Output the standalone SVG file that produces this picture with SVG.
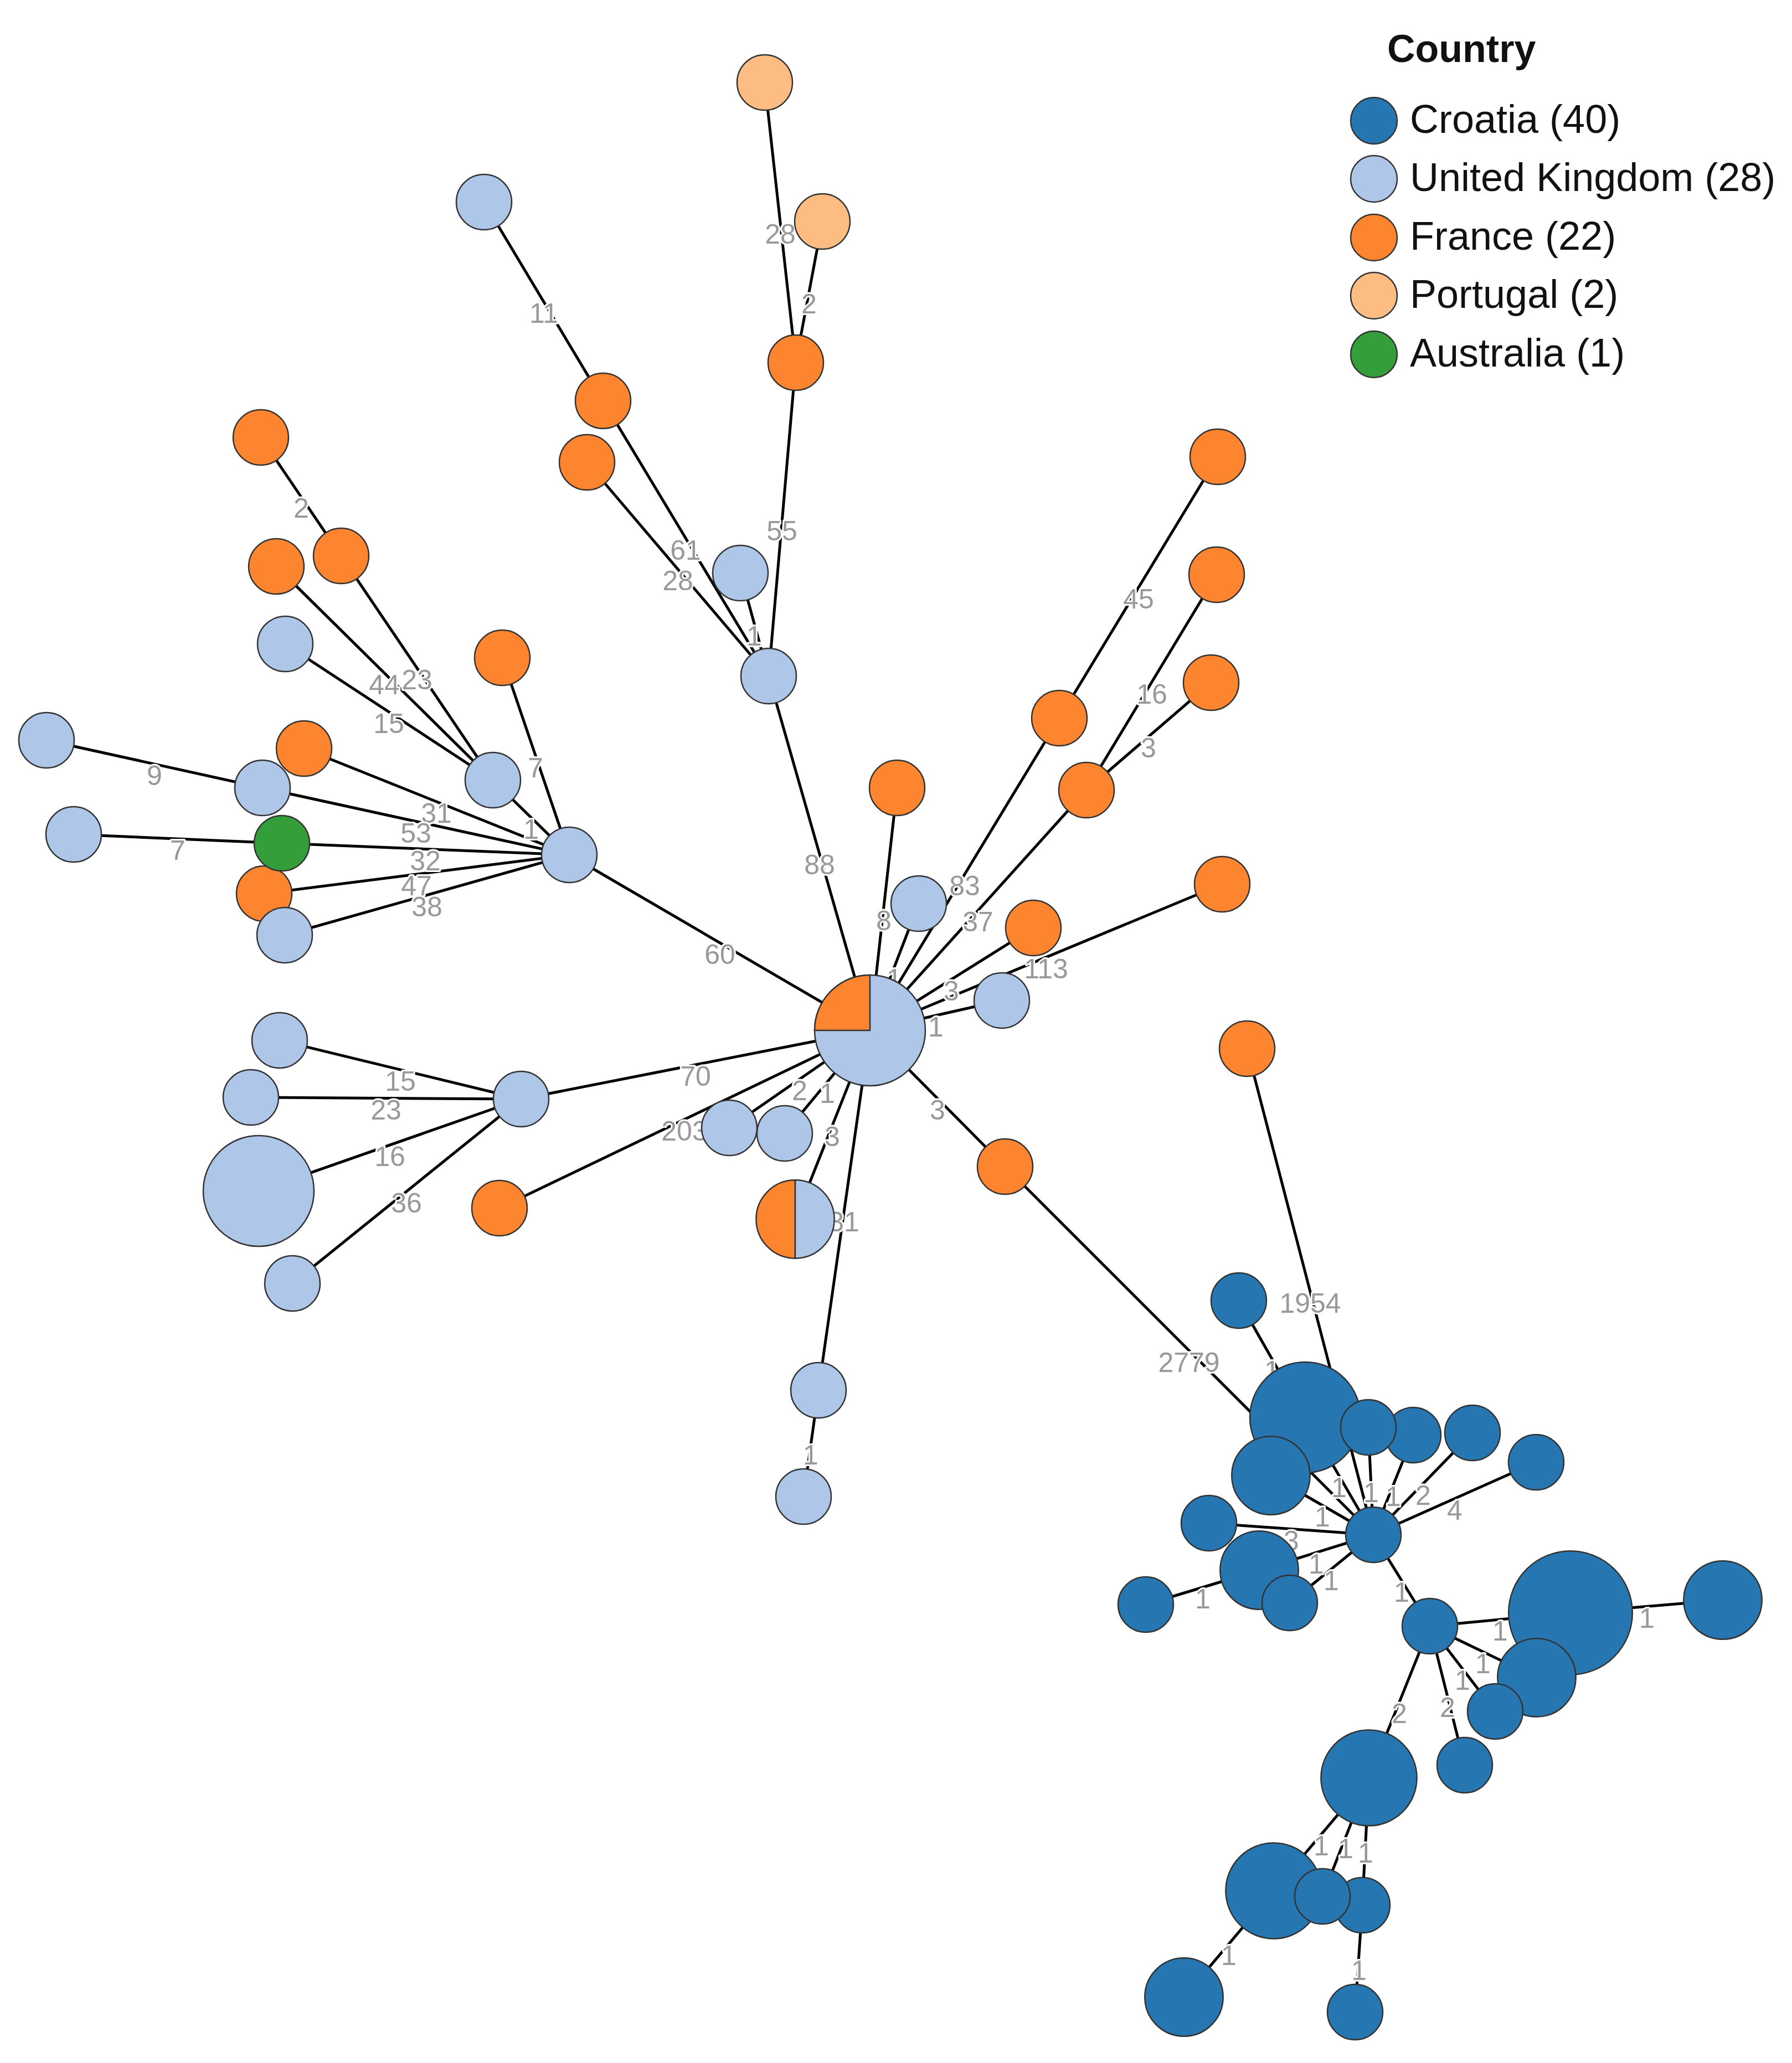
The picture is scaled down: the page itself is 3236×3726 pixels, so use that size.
<svg xmlns="http://www.w3.org/2000/svg" width="3236" height="3726" viewBox="0 0 3236 3726">
<style>
.e{stroke:#000;stroke-width:5;fill:none}
.l{font-family:"Liberation Sans",Arial,sans-serif;font-size:50px;fill:#999;text-anchor:middle;stroke:#fff;stroke-width:6;paint-order:stroke;stroke-linejoin:round}
.n{stroke:#333;stroke-width:2.5}
.hr{fill:#2677b1}.uk{fill:#aec7e8}.fr{fill:#fd852f}.pt{fill:#fdbd82}.au{fill:#349e3a}
.lt{font-family:"Liberation Sans",Arial,sans-serif;font-size:72px;fill:#111}
</style>
<rect width="3236" height="3726" fill="#fff"/>
<g id="edges">
<line class="e" x1="1381" y1="149" x2="1437" y2="655"/>
<line class="e" x1="1485" y1="400" x2="1437" y2="655"/>
<line class="e" x1="1437" y1="655" x2="1388" y2="1221"/>
<line class="e" x1="874" y1="365" x2="1089" y2="724"/>
<line class="e" x1="1089" y1="724" x2="1388" y2="1221"/>
<line class="e" x1="1060" y1="835" x2="1388" y2="1221"/>
<line class="e" x1="1337" y1="1035" x2="1388" y2="1221"/>
<line class="e" x1="1388" y1="1221" x2="1571" y2="1861"/>
<line class="e" x1="471" y1="790" x2="616" y2="1004"/>
<line class="e" x1="616" y1="1004" x2="890" y2="1409"/>
<line class="e" x1="499" y1="1023" x2="890" y2="1409"/>
<line class="e" x1="515" y1="1163" x2="890" y2="1409"/>
<line class="e" x1="890" y1="1409" x2="1028" y2="1544"/>
<line class="e" x1="907" y1="1188" x2="1028" y2="1544"/>
<line class="e" x1="84" y1="1337" x2="474" y2="1423"/>
<line class="e" x1="549" y1="1352" x2="1028" y2="1544"/>
<line class="e" x1="474" y1="1423" x2="1028" y2="1544"/>
<line class="e" x1="133" y1="1507" x2="509" y2="1523"/>
<line class="e" x1="509" y1="1523" x2="1028" y2="1544"/>
<line class="e" x1="477" y1="1614" x2="1028" y2="1544"/>
<line class="e" x1="514" y1="1689" x2="1028" y2="1544"/>
<line class="e" x1="1028" y1="1544" x2="1571" y2="1861"/>
<line class="e" x1="1620" y1="1423" x2="1571" y2="1861"/>
<line class="e" x1="1659" y1="1632" x2="1571" y2="1861"/>
<line class="e" x1="2199" y1="825" x2="1913" y2="1297"/>
<line class="e" x1="1913" y1="1297" x2="1571" y2="1861"/>
<line class="e" x1="2197" y1="1038" x2="1962" y2="1427"/>
<line class="e" x1="2187" y1="1233" x2="1962" y2="1427"/>
<line class="e" x1="1962" y1="1427" x2="1571" y2="1861"/>
<line class="e" x1="1866" y1="1676" x2="1571" y2="1861"/>
<line class="e" x1="2207" y1="1597" x2="1571" y2="1861"/>
<line class="e" x1="1809" y1="1807" x2="1571" y2="1861"/>
<line class="e" x1="1815" y1="2107" x2="1571" y2="1861"/>
<line class="e" x1="505" y1="1879" x2="941" y2="1985"/>
<line class="e" x1="453" y1="1982" x2="941" y2="1985"/>
<line class="e" x1="467" y1="2151" x2="941" y2="1985"/>
<line class="e" x1="528" y1="2318" x2="941" y2="1985"/>
<line class="e" x1="941" y1="1985" x2="1571" y2="1861"/>
<line class="e" x1="902" y1="2182" x2="1571" y2="1861"/>
<line class="e" x1="1317" y1="2037" x2="1571" y2="1861"/>
<line class="e" x1="1417" y1="2047" x2="1571" y2="1861"/>
<line class="e" x1="1436" y1="2202" x2="1571" y2="1861"/>
<line class="e" x1="1478" y1="2511" x2="1571" y2="1861"/>
<line class="e" x1="1478" y1="2511" x2="1451" y2="2703"/>
<line class="e" x1="1815" y1="2107" x2="2480" y2="2772"/>
<line class="e" x1="2252" y1="1894" x2="2480" y2="2772"/>
<line class="e" x1="2237" y1="2349" x2="2357" y2="2560"/>
<line class="e" x1="2480" y1="2772" x2="2357" y2="2560"/>
<line class="e" x1="2480" y1="2772" x2="2471" y2="2578"/>
<line class="e" x1="2480" y1="2772" x2="2552" y2="2592"/>
<line class="e" x1="2480" y1="2772" x2="2659" y2="2588"/>
<line class="e" x1="2480" y1="2772" x2="2774" y2="2641"/>
<line class="e" x1="2480" y1="2772" x2="2295" y2="2665"/>
<line class="e" x1="2480" y1="2772" x2="2183" y2="2751"/>
<line class="e" x1="2480" y1="2772" x2="2274" y2="2836"/>
<line class="e" x1="2480" y1="2772" x2="2329" y2="2895"/>
<line class="e" x1="2480" y1="2772" x2="2582" y2="2937"/>
<line class="e" x1="2069" y1="2898" x2="2274" y2="2836"/>
<line class="e" x1="2582" y1="2937" x2="2836" y2="2913"/>
<line class="e" x1="2836" y1="2913" x2="3111" y2="2890"/>
<line class="e" x1="2582" y1="2937" x2="2775" y2="3030"/>
<line class="e" x1="2582" y1="2937" x2="2700" y2="3091"/>
<line class="e" x1="2582" y1="2937" x2="2645" y2="3188"/>
<line class="e" x1="2582" y1="2937" x2="2472" y2="3211"/>
<line class="e" x1="2472" y1="3211" x2="2300" y2="3415"/>
<line class="e" x1="2472" y1="3211" x2="2388" y2="3425"/>
<line class="e" x1="2472" y1="3211" x2="2460" y2="3441"/>
<line class="e" x1="2300" y1="3415" x2="2138" y2="3607"/>
<line class="e" x1="2460" y1="3441" x2="2447" y2="3634"/>
</g>
<g id="edge-labels">
<text class="l" x="1409" y="440">28</text>
<text class="l" x="1461" y="566">2</text>
<text class="l" x="1412" y="976">55</text>
<text class="l" x="982" y="583">11</text>
<text class="l" x="1238" y="1011">61</text>
<text class="l" x="1224" y="1066">28</text>
<text class="l" x="1362" y="1166">1</text>
<text class="l" x="1480" y="1579">88</text>
<text class="l" x="544" y="935">2</text>
<text class="l" x="753" y="1245">23</text>
<text class="l" x="694" y="1254">44</text>
<text class="l" x="702" y="1324">15</text>
<text class="l" x="959" y="1515">1</text>
<text class="l" x="967" y="1404">7</text>
<text class="l" x="279" y="1418">9</text>
<text class="l" x="788" y="1486">31</text>
<text class="l" x="751" y="1522">53</text>
<text class="l" x="321" y="1553">7</text>
<text class="l" x="768" y="1572">32</text>
<text class="l" x="752" y="1617">47</text>
<text class="l" x="771" y="1655">38</text>
<text class="l" x="1300" y="1741">60</text>
<text class="l" x="1596" y="1680">8</text>
<text class="l" x="1615" y="1785">1</text>
<text class="l" x="2056" y="1099">45</text>
<text class="l" x="1742" y="1617">83</text>
<text class="l" x="2080" y="1271">16</text>
<text class="l" x="2074" y="1368">3</text>
<text class="l" x="1766" y="1682">37</text>
<text class="l" x="1718" y="1807">3</text>
<text class="l" x="1889" y="1767">113</text>
<text class="l" x="1690" y="1872">1</text>
<text class="l" x="1693" y="2022">3</text>
<text class="l" x="723" y="1970">15</text>
<text class="l" x="697" y="2022">23</text>
<text class="l" x="704" y="2106">16</text>
<text class="l" x="734" y="2190">36</text>
<text class="l" x="1256" y="1961">70</text>
<text class="l" x="1236" y="2060">203</text>
<text class="l" x="1444" y="1987">2</text>
<text class="l" x="1494" y="1992">1</text>
<text class="l" x="1503" y="2070">3</text>
<text class="l" x="1524" y="2224">31</text>
<text class="l" x="1464" y="2645">1</text>
<text class="l" x="2147" y="2478">2779</text>
<text class="l" x="2366" y="2371">1954</text>
<text class="l" x="2297" y="2493">1</text>
<text class="l" x="2418" y="2704">1</text>
<text class="l" x="2476" y="2713">1</text>
<text class="l" x="2516" y="2720">1</text>
<text class="l" x="2570" y="2718">2</text>
<text class="l" x="2627" y="2745">4</text>
<text class="l" x="2388" y="2757">1</text>
<text class="l" x="2332" y="2800">3</text>
<text class="l" x="2377" y="2842">1</text>
<text class="l" x="2404" y="2872">1</text>
<text class="l" x="2531" y="2893">1</text>
<text class="l" x="2172" y="2905">1</text>
<text class="l" x="2709" y="2963">1</text>
<text class="l" x="2974" y="2940">1</text>
<text class="l" x="2678" y="3022">1</text>
<text class="l" x="2641" y="3052">1</text>
<text class="l" x="2614" y="3101">2</text>
<text class="l" x="2527" y="3112">2</text>
<text class="l" x="2386" y="3351">1</text>
<text class="l" x="2430" y="3356">1</text>
<text class="l" x="2466" y="3364">1</text>
<text class="l" x="2219" y="3549">1</text>
<text class="l" x="2454" y="3576">1</text>
</g>
<g id="nodes">
<g id="node-P1"><circle class="n pt" cx="1381" cy="149" r="50"/></g>
<g id="node-P2"><circle class="n pt" cx="1485" cy="400" r="50"/></g>
<g id="node-F1"><circle class="n fr" cx="1437" cy="655" r="50"/></g>
<g id="node-F2"><circle class="n fr" cx="1089" cy="724" r="50"/></g>
<g id="node-F3"><circle class="n fr" cx="1060" cy="835" r="50"/></g>
<g id="node-U1"><circle class="n uk" cx="874" cy="365" r="50"/></g>
<g id="node-U2"><circle class="n uk" cx="1337" cy="1035" r="50"/></g>
<g id="node-U3"><circle class="n uk" cx="1388" cy="1221" r="50"/></g>
<g id="node-A1"><circle class="n fr" cx="471" cy="790" r="50"/></g>
<g id="node-A2"><circle class="n fr" cx="616" cy="1004" r="50"/></g>
<g id="node-A3"><circle class="n fr" cx="499" cy="1023" r="50"/></g>
<g id="node-B1"><circle class="n uk" cx="515" cy="1163" r="50"/></g>
<g id="node-A4"><circle class="n fr" cx="907" cy="1188" r="50"/></g>
<g id="node-B2"><circle class="n uk" cx="84" cy="1337" r="50"/></g>
<g id="node-A5"><circle class="n fr" cx="549" cy="1352" r="50"/></g>
<g id="node-B3"><circle class="n uk" cx="474" cy="1423" r="50"/></g>
<g id="node-L1"><circle class="n uk" cx="890" cy="1409" r="50"/></g>
<g id="node-B4"><circle class="n uk" cx="133" cy="1507" r="50"/></g>
<g id="node-A6"><circle class="n fr" cx="477" cy="1614" r="50"/></g>
<g id="node-G"><circle class="n au" cx="509" cy="1523" r="50"/></g>
<g id="node-B5"><circle class="n uk" cx="514" cy="1689" r="50"/></g>
<g id="node-L2"><circle class="n uk" cx="1028" cy="1544" r="50"/></g>
<g id="node-C1"><circle class="n fr" cx="1620" cy="1423" r="50"/></g>
<g id="node-C3"><circle class="n uk" cx="1659" cy="1632" r="50"/></g>
<g id="node-R1"><circle class="n fr" cx="2199" cy="825" r="50"/></g>
<g id="node-R2"><circle class="n fr" cx="2197" cy="1038" r="50"/></g>
<g id="node-R3"><circle class="n fr" cx="2187" cy="1233" r="50"/></g>
<g id="node-R4"><circle class="n fr" cx="1913" cy="1297" r="50"/></g>
<g id="node-C2"><circle class="n fr" cx="1962" cy="1427" r="50"/></g>
<g id="node-C4"><circle class="n fr" cx="1866" cy="1676" r="50"/></g>
<g id="node-C6"><circle class="n fr" cx="2207" cy="1597" r="50"/></g>
<g id="node-C5"><circle class="n uk" cx="1809" cy="1807" r="50"/></g>
<g id="node-C7"><circle class="n fr" cx="1815" cy="2107" r="50"/></g>
<g id="node-RL"><circle class="n fr" cx="2252" cy="1894" r="50"/></g>
<g id="node-hub">
<circle class="n uk" cx="1571" cy="1861" r="100"/>
<path class="n fr" d="M1571,1861 L1471,1861 A100,100 0 0 1 1571,1761 Z"/>
</g>
<g id="node-E1"><circle class="n uk" cx="505" cy="1879" r="50"/></g>
<g id="node-E2"><circle class="n uk" cx="453" cy="1982" r="50"/></g>
<g id="node-E3"><circle class="n uk" cx="467" cy="2151" r="100"/></g>
<g id="node-E4"><circle class="n uk" cx="528" cy="2318" r="50"/></g>
<g id="node-E0"><circle class="n uk" cx="941" cy="1985" r="50"/></g>
<g id="node-E5"><circle class="n fr" cx="902" cy="2182" r="50"/></g>
<g id="node-D1"><circle class="n uk" cx="1317" cy="2037" r="50"/></g>
<g id="node-D2"><circle class="n uk" cx="1417" cy="2047" r="50"/></g>
<g id="node-D3">
<path class="n fr" d="M1436,2131.3 A70.7,70.7 0 0 0 1436,2272.7 Z"/>
<path class="n uk" d="M1436,2131.3 A70.7,70.7 0 0 1 1436,2272.7 Z"/>
</g>
<g id="node-V1"><circle class="n uk" cx="1478" cy="2511" r="50"/></g>
<g id="node-V2"><circle class="n uk" cx="1451" cy="2703" r="50"/></g>
<g id="node-K1"><circle class="n hr" cx="2237" cy="2349" r="50"/></g>
<g id="node-K2"><circle class="n hr" cx="2357" cy="2560" r="100"/></g>
<g id="node-K4"><circle class="n hr" cx="2552" cy="2592" r="50"/></g>
<g id="node-K3"><circle class="n hr" cx="2471" cy="2578" r="50"/></g>
<g id="node-K5"><circle class="n hr" cx="2659" cy="2588" r="50"/></g>
<g id="node-K6"><circle class="n hr" cx="2774" cy="2641" r="50"/></g>
<g id="node-K7"><circle class="n hr" cx="2295" cy="2665" r="70.7"/></g>
<g id="node-K8"><circle class="n hr" cx="2183" cy="2751" r="50"/></g>
<g id="node-K9"><circle class="n hr" cx="2480" cy="2772" r="50"/></g>
<g id="node-K10"><circle class="n hr" cx="2274" cy="2836" r="70.7"/></g>
<g id="node-K11"><circle class="n hr" cx="2069" cy="2898" r="50"/></g>
<g id="node-K12"><circle class="n hr" cx="2329" cy="2895" r="50"/></g>
<g id="node-K13"><circle class="n hr" cx="2582" cy="2937" r="50"/></g>
<g id="node-K14"><circle class="n hr" cx="2836" cy="2913" r="111.8"/></g>
<g id="node-K15"><circle class="n hr" cx="3111" cy="2890" r="70.7"/></g>
<g id="node-K16"><circle class="n hr" cx="2775" cy="3030" r="70.7"/></g>
<g id="node-K17"><circle class="n hr" cx="2700" cy="3091" r="50"/></g>
<g id="node-K18"><circle class="n hr" cx="2645" cy="3188" r="50"/></g>
<g id="node-K19"><circle class="n hr" cx="2472" cy="3211" r="86.6"/></g>
<g id="node-K20"><circle class="n hr" cx="2300" cy="3415" r="86.6"/></g>
<g id="node-K22"><circle class="n hr" cx="2460" cy="3441" r="50"/></g>
<g id="node-K21"><circle class="n hr" cx="2388" cy="3425" r="50"/></g>
<g id="node-K23"><circle class="n hr" cx="2138" cy="3607" r="70.7"/></g>
<g id="node-K24"><circle class="n hr" cx="2447" cy="3634" r="50"/></g>
</g>
<g id="legend">
<text x="2505" y="112" style="font-family:'Liberation Sans',Arial,sans-serif;font-size:70px;font-weight:bold;fill:#111">Country</text>
<circle class="n hr" cx="2481" cy="218" r="42"/>
<text class="lt" x="2546" y="240">Croatia (40)</text>
<circle class="n uk" cx="2481" cy="323" r="42"/>
<text class="lt" x="2546" y="345">United Kingdom (28)</text>
<circle class="n fr" cx="2481" cy="429" r="42"/>
<text class="lt" x="2546" y="451">France (22)</text>
<circle class="n pt" cx="2481" cy="534" r="42"/>
<text class="lt" x="2546" y="556">Portugal (2)</text>
<circle class="n au" cx="2481" cy="640" r="42"/>
<text class="lt" x="2546" y="662">Australia (1)</text>
</g>
</svg>
